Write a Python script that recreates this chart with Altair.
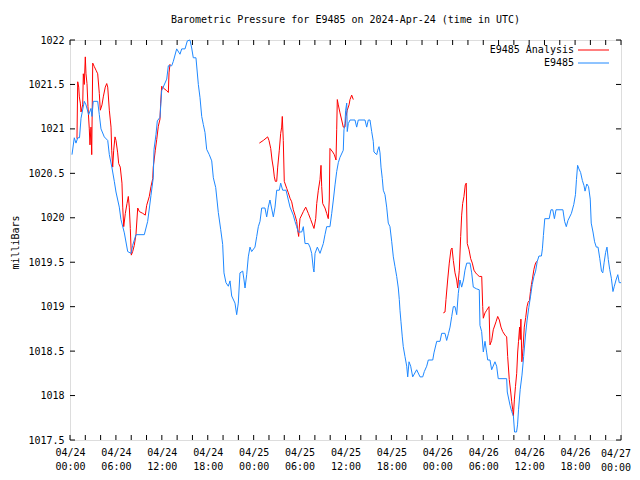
import pandas as pd
import altair as alt

# ---- Data (hours since 2024-04-24 00:00 UTC, pressure in mb) ----
station_hours = [0.26, 0.56, 0.78, 1.01, 1.24, 1.44, 1.87, 2.09, 2.44, 2.74, 2.87, 3.04, 3.62, 3.83,
                 4.05, 4.48, 4.93, 5.14, 5.49, 5.79, 6.01, 6.44, 6.66, 7.10, 7.54, 7.97, 8.19, 8.62,
                 9.71, 10.15, 10.58, 10.88, 10.98, 11.24, 11.41, 11.76, 11.98, 12.64, 12.85, 13.29,
                 13.50, 13.94, 14.37, 14.60, 15.03, 15.33, 15.68, 15.90, 16.11, 16.46, 16.77, 16.99,
                 17.21, 17.42, 17.64, 17.86, 18.20, 18.52, 18.73, 19.04, 19.38, 19.69, 19.95, 20.12,
                 20.38, 20.69, 20.91, 21.13, 21.56, 21.78, 21.99, 22.21, 22.57, 22.74, 22.87, 23.09,
                 23.30, 23.52, 23.74, 24.17, 24.40, 24.61, 24.83, 25.05, 25.48, 25.70, 25.91, 26.13,
                 26.57, 26.79, 27.01, 27.35, 27.53, 27.79, 28.23, 28.53, 28.75, 29.18, 29.40, 29.62,
                 29.83, 30.28, 30.49, 30.71, 31.14, 31.36, 31.58, 31.79, 31.88, 32.02, 32.32, 32.67,
                 33.10, 33.32, 33.54, 33.97, 34.20, 34.41, 34.63, 34.85, 35.06, 35.28, 35.71, 35.80,
                 35.93, 36.02, 36.16, 36.23, 36.37, 36.59, 37.24, 37.46, 37.67, 38.55, 38.77, 38.98,
                 39.20, 39.42, 39.63, 39.72, 40.08, 40.21, 40.38, 40.51, 40.64, 40.81, 40.94, 41.16,
                 41.38, 41.59, 41.81, 42.04, 42.25, 42.47, 42.69, 42.90, 43.03, 43.12, 43.25, 43.42,
                 43.55, 43.77, 44.00, 44.13, 44.30, 44.52, 44.78, 45.30, 45.74, 46.09, 46.30, 46.61,
                 46.82, 47.40, 47.56, 47.92, 48.35, 48.57, 49.00, 49.22, 49.46, 49.66, 49.88, 50.09,
                 50.31, 50.53, 50.74, 50.96, 51.18, 51.42, 51.61, 51.84, 52.27, 52.49, 52.70, 53.14,
                 53.48, 53.57, 53.79, 54.01, 54.23, 54.45, 54.58, 54.88, 55.10, 55.53, 55.75, 55.96,
                 57.06, 57.14, 57.50, 57.72, 57.94, 58.09, 58.35, 58.48, 58.61, 58.83, 59.06, 59.28,
                 59.51, 59.72, 59.95, 60.17, 60.40, 60.62, 60.84, 61.06, 61.28, 61.60, 61.73, 61.86,
                 62.04, 62.62, 62.85, 63.08, 63.30, 63.51, 64.41, 64.63, 64.85, 65.07, 65.52, 65.83,
                 66.05, 66.18, 66.33, 66.50, 66.72, 66.95, 67.17, 67.30, 67.53, 67.76, 67.98, 68.11,
                 68.34, 68.55, 68.77, 69.00, 69.23, 69.45, 69.62, 69.80, 69.99, 70.17, 70.34, 70.52,
                 70.74, 70.95, 71.13, 71.35, 71.58, 71.77, 72.00]
station_values = [1020.71, 1020.90, 1020.84, 1020.90, 1020.90, 1021.12, 1021.31, 1021.27, 1021.16, 1021.23,
                  1021.14, 1021.31, 1021.31, 1021.16, 1021.00, 1020.91, 1020.87, 1020.71, 1020.56, 1020.41,
                  1020.29, 1020.12, 1019.98, 1019.83, 1019.62, 1019.60, 1019.69, 1019.81, 1019.81, 1019.96,
                  1020.25, 1020.45, 1020.77, 1020.94, 1021.09, 1021.13, 1021.43, 1021.56, 1021.71, 1021.71,
                  1021.76, 1021.90, 1021.84, 1021.90, 1021.90, 1021.99, 1022.00, 1021.91, 1021.80, 1021.80,
                  1021.50, 1021.35, 1021.14, 1021.05, 1020.96, 1020.77, 1020.71, 1020.64, 1020.45, 1020.34,
                  1020.06, 1019.87, 1019.70, 1019.38, 1019.27, 1019.23, 1019.29, 1019.12, 1019.04, 1018.91,
                  1019.04, 1019.38, 1019.40, 1019.30, 1019.21, 1019.36, 1019.56, 1019.67, 1019.62, 1019.67,
                  1019.79, 1019.90, 1019.96, 1020.11, 1020.11, 1020.01, 1020.12, 1020.20, 1020.01, 1020.12,
                  1020.31, 1020.31, 1020.39, 1020.31, 1020.31, 1020.20, 1020.12, 1020.03, 1019.96, 1019.90,
                  1019.84, 1019.84, 1019.90, 1019.71, 1019.71, 1019.67, 1019.60, 1019.43, 1019.39, 1019.60,
                  1019.67, 1019.60, 1019.71, 1019.81, 1019.90, 1019.90, 1020.05, 1020.20, 1020.37, 1020.52,
                  1020.62, 1020.68, 1020.76, 1020.99, 1021.06, 1021.21, 1021.29, 1020.97, 1021.06, 1021.10,
                  1021.10, 1021.02, 1021.10, 1021.10, 1021.02, 1021.10, 1021.10, 1020.97, 1020.86, 1020.74,
                  1020.71, 1020.76, 1020.80, 1020.73, 1020.57, 1020.44, 1020.31, 1020.26, 1020.12, 1019.94,
                  1019.90, 1019.73, 1019.56, 1019.45, 1019.34, 1019.21, 1019.08, 1018.96, 1018.83, 1018.66,
                  1018.55, 1018.44, 1018.33, 1018.21, 1018.38, 1018.33, 1018.21, 1018.29, 1018.21, 1018.21,
                  1018.27, 1018.33, 1018.40, 1018.40, 1018.48, 1018.61, 1018.61, 1018.70, 1018.70, 1018.62,
                  1018.70, 1018.77, 1018.89, 1019.00, 1019.00, 1018.91, 1019.15, 1019.30, 1019.22, 1019.30,
                  1019.41, 1019.49, 1019.49, 1019.38, 1019.22, 1019.20, 1019.19, 1018.79, 1018.72, 1018.49,
                  1018.61, 1018.48, 1018.40, 1018.40, 1018.29, 1018.38, 1018.33, 1018.19, 1018.19, 1018.04,
                  1017.89, 1017.82, 1017.77, 1017.59, 1017.59, 1017.67, 1017.84, 1018.07, 1018.23, 1018.44,
                  1018.67, 1018.84, 1018.99, 1019.11, 1019.25, 1019.34, 1019.40, 1019.51, 1019.57, 1019.57,
                  1019.65, 1019.80, 1019.99, 1019.99, 1020.09, 1020.09, 1019.99, 1020.09, 1020.09, 1019.96,
                  1019.90, 1019.97, 1020.05, 1020.15, 1020.26, 1020.43, 1020.59, 1020.55, 1020.51, 1020.42,
                  1020.36, 1020.30, 1020.38, 1020.35, 1020.21, 1019.94, 1019.84, 1019.73, 1019.67, 1019.67,
                  1019.54, 1019.40, 1019.38, 1019.50, 1019.61, 1019.67, 1019.53, 1019.42, 1019.32, 1019.17,
                  1019.23, 1019.30, 1019.36, 1019.27, 1019.27]

analysis_hours = [0.91, 1.01, 1.14, 1.22, 1.35, 1.44, 1.66, 1.74, 1.87, 2.00, 2.09, 2.22, 2.35, 2.52, 2.61,
                  2.74, 2.84, 2.97, 3.18, 3.40, 3.62, 3.83, 3.96, 4.18, 4.35, 4.61, 4.80, 4.93, 5.14, 5.36,
                  5.45, 5.58, 5.71, 5.88, 6.01, 6.23, 6.36, 6.57, 6.79, 6.89, 7.02, 7.23, 7.45, 7.62, 7.75,
                  7.88, 8.01, 8.19, 8.40, 8.62, 8.85, 9.06, 9.50, 9.84, 10.02, 10.36, 10.58, 10.81, 10.88,
                  11.15, 11.33, 11.54, 11.76, 11.85, 11.98, 12.19, 12.64, 12.85, 12.94, 13.07,
                  24.74, 25.26, 25.83, 26.00, 26.23, 26.40, 26.57, 26.70, 26.83, 27.01, 27.14, 27.35,
                  27.53, 27.66, 27.74, 27.87, 28.00, 28.32, 28.53, 28.75, 28.97, 29.18, 29.40, 29.62,
                  29.75, 29.88, 30.05, 30.49, 30.80, 31.14, 31.45, 31.71, 31.88, 32.11, 32.24, 32.45,
                  32.67, 32.80, 32.89, 33.02, 33.32, 33.54, 33.75, 33.88, 33.97, 34.33, 34.54, 34.76,
                  34.85, 34.93, 35.06, 35.28, 35.50, 35.71, 35.93, 36.06, 36.23, 36.46, 36.59, 36.81, 37.02,
                  48.78, 49.00, 49.13, 49.35, 49.56, 49.78, 49.92, 50.09, 50.31, 50.53, 50.66, 50.87,
                  51.05, 51.18, 51.31, 51.48, 51.65, 51.78, 51.91, 52.14, 52.36, 52.57, 52.79, 53.01,
                  53.22, 53.48, 53.80, 53.93, 54.01, 54.23, 54.45, 54.75, 54.88, 55.10, 55.31, 55.67,
                  55.89, 56.10, 56.32, 56.54, 56.84, 57.06, 57.19, 57.40, 57.59, 57.72, 57.85, 57.94,
                  58.07, 58.21, 58.37, 58.50, 58.61, 58.75, 58.83, 58.92, 59.05, 59.20, 59.36, 59.55,
                  59.72, 59.86, 60.04, 60.17, 60.30, 60.44, 60.62, 60.80, 60.97]
analysis_values = [1020.89, 1021.53, 1021.47, 1021.36, 1021.29, 1021.19, 1021.27, 1021.62, 1021.50, 1021.81,
                   1021.62, 1021.51, 1021.25, 1021.00, 1020.82, 1021.02, 1020.71, 1021.74, 1021.70, 1021.66,
                   1021.62, 1021.40, 1021.21, 1021.27, 1021.36, 1021.47, 1021.51, 1021.47, 1021.21, 1021.02,
                   1020.76, 1020.57, 1020.76, 1020.91, 1020.87, 1020.73, 1020.61, 1020.57, 1020.39, 1020.12,
                   1019.90, 1020.05, 1020.16, 1020.24, 1020.12, 1019.88, 1019.58, 1019.62, 1019.69, 1019.81,
                   1020.11, 1020.07, 1020.05, 1020.03, 1020.14, 1020.24, 1020.35, 1020.44, 1020.57, 1020.76,
                   1020.88, 1021.03, 1021.11, 1021.29, 1021.48, 1021.46, 1021.43, 1021.41, 1021.63, 1021.73,
                   1020.84, 1020.87, 1020.91, 1020.87, 1020.78, 1020.65, 1020.56, 1020.46, 1020.41, 1020.41,
                   1020.57, 1020.76, 1020.95, 1021.02, 1021.14, 1020.87, 1020.41, 1020.33, 1020.28, 1020.22,
                   1020.18, 1020.09, 1020.03, 1019.96, 1019.86, 1019.79, 1019.99, 1020.07, 1020.12, 1020.05,
                   1019.98, 1019.92, 1019.88, 1019.99, 1020.16, 1020.31, 1020.43, 1020.59, 1020.35, 1020.16,
                   1020.11, 1020.05, 1019.99, 1020.20, 1020.78, 1020.74, 1020.71, 1020.65, 1020.99, 1021.33,
                   1021.27, 1021.18, 1021.10, 1021.02, 1021.02, 1021.14, 1021.21, 1021.27, 1021.33, 1021.38,
                   1021.33,
                   1018.93, 1018.94, 1019.08, 1019.30, 1019.49, 1019.64, 1019.66, 1019.52, 1019.38, 1019.30,
                   1019.21, 1019.41, 1019.79, 1020.03, 1020.16, 1020.24, 1020.37, 1020.39, 1019.71, 1019.64,
                   1019.54, 1019.49, 1019.41, 1019.38, 1019.36, 1019.34, 1019.34, 1019.00, 1018.87, 1018.93,
                   1018.96, 1019.00, 1018.57, 1018.62, 1018.74, 1018.83, 1018.89, 1018.85, 1018.77, 1018.72,
                   1018.68, 1018.66, 1018.44, 1018.18, 1018.04, 1017.93, 1017.84, 1017.77, 1017.96, 1018.10,
                   1018.25, 1018.49, 1018.61, 1018.77, 1018.63, 1018.86, 1018.38, 1018.53, 1018.77, 1018.88,
                   1019.00, 1019.05, 1019.07, 1019.17, 1019.25, 1019.32, 1019.42, 1019.48, 1019.51]

series_names = ["E9485 Analysis", "E9485"]
series_colors = ["#ff0000", "#1e88ff"]

label_hours = [0, 6, 12, 18, 24, 30, 36, 42, 48, 54, 60, 66, 72]
tick_dates = ["04/24", "04/24", "04/24", "04/24", "04/25", "04/25", "04/25", "04/25",
              "04/26", "04/26", "04/26", "04/26", "04/27"]
tick_times = ["00:00", "06:00", "12:00", "18:00", "00:00", "06:00", "12:00", "18:00",
              "00:00", "06:00", "12:00", "18:00", "00:00"]
minor_hours = list(range(0, 73, 2))
y_ticks = [1017.5, 1018.0, 1018.5, 1019.0, 1019.5, 1020.0, 1020.5, 1021.0, 1021.5, 1022.0]

title_text = "Barometric Pressure for E9485 on 2024-Apr-24 (time in UTC)"
y_title = "milliBars"

FONT = "DejaVu Sans Mono"
W, H = 551, 400

# ---- Frames ----
seg = [0]
for i in range(1, len(analysis_hours)):
    seg.append(seg[-1] + (1 if analysis_hours[i] - analysis_hours[i - 1] > 3 else 0))
df_an = pd.DataFrame({"hours": analysis_hours, "pressure": analysis_values, "seg": seg})
df_st = pd.DataFrame({"hours": station_hours, "pressure": station_values})
df_xt = pd.DataFrame({"hours": minor_hours})
df_yt = pd.DataFrame({"pressure": y_ticks})
df_one = pd.DataFrame({"k": [0]})
df_last = pd.DataFrame({"hours": [label_hours[-1]],
                        "label": [tick_dates[-1] + "\n" + tick_times[-1]]})

label_expr = ("[" + str(tick_dates) + "[round(datum.value/6)], "
              + str(tick_times) + "[round(datum.value/6)]]")

x_axis = alt.Axis(values=label_hours[:-1], labelExpr=label_expr, ticks=False, tickSize=0,
                  domain=False, grid=False, title=None, labelFont=FONT, labelFontSize=10,
                  labelColor="black", labelBaseline="top", labelPadding=7, labelLineHeight=14,
                  labelAngle=0, labelOverlap=False, labelFlush=False)
y_axis = alt.Axis(values=y_ticks, format=".1~f", ticks=False, tickSize=0, domain=False,
                  grid=False, title=y_title, labelFont=FONT, labelFontSize=10, labelColor="black",
                  labelPadding=6, labelOverlap=False, labelFlush=False,
                  titleFont=FONT, titleFontSize=10, titleFontWeight="normal", titleColor="black",
                  titleAngle=270, titleX=-55, titleY=202, titleAlign="center",
                  titleBaseline="middle")

x_scale = alt.Scale(domain=[0, 72], nice=False, zero=False)
y_scale = alt.Scale(domain=[1017.5, 1022], nice=False, zero=False)

X = alt.X("hours:Q", scale=x_scale, axis=x_axis)
Y = alt.Y("pressure:Q", scale=y_scale, axis=y_axis)

red_line = alt.Chart(df_an).mark_line(color=series_colors[0], strokeWidth=1).encode(
    x=X, y=Y, detail="seg:N")
blue_line = alt.Chart(df_st).mark_line(color=series_colors[1], strokeWidth=1).encode(
    x=X, y=Y)

tick_len = 5
xt_bottom = alt.Chart(df_xt).mark_rule(color="black", strokeWidth=1).encode(
    x=X, y=alt.value(H), y2=alt.value(H - tick_len))
xt_top = alt.Chart(df_xt).mark_rule(color="black", strokeWidth=1).encode(
    x=X, y=alt.value(0), y2=alt.value(tick_len))
yt_left = alt.Chart(df_yt).mark_rule(color="black", strokeWidth=1).encode(
    y=Y, x=alt.value(0), x2=alt.value(tick_len))
yt_right = alt.Chart(df_yt).mark_rule(color="black", strokeWidth=1).encode(
    y=Y, x=alt.value(W), x2=alt.value(W - tick_len))

# last x label (kept inside the page edge)
last_label = alt.Chart(df_last).mark_text(
    font=FONT, fontSize=10, align="center", baseline="top", lineHeight=14, lineBreak="\n",
    color="black", dx=-5).encode(x=X, y=alt.value(H + 9), text="label:N")

legend_layers = []
for i, (name, col) in enumerate(zip(series_names, series_colors)):
    ly = 10 + i * 13
    legend_layers.append(
        alt.Chart(df_one).mark_text(font=FONT, fontSize=10, align="right", baseline="middle",
                                    color="black").encode(
            x=alt.value(504), y=alt.value(ly), text=alt.value(name)))
    legend_layers.append(
        alt.Chart(df_one).mark_rule(color=col, strokeWidth=1).encode(
            x=alt.value(508), x2=alt.value(539), y=alt.value(ly)))

chart = alt.layer(red_line, blue_line, xt_bottom, xt_top, yt_left, yt_right, last_label,
                  *legend_layers).properties(
    width=W, height=H,
    title=alt.TitleParams(title_text, font=FONT, fontSize=10, fontWeight="normal",
                          color="black", anchor="middle", offset=10),
    autosize=alt.AutoSizeParams(type="none"),
    padding={"left": 62, "top": 32, "right": 11, "bottom": 32},
).configure_view(stroke="black", strokeWidth=1).configure(background="white")

chart.save("out.html", embed_options={"renderer": "svg", "actions": False})
